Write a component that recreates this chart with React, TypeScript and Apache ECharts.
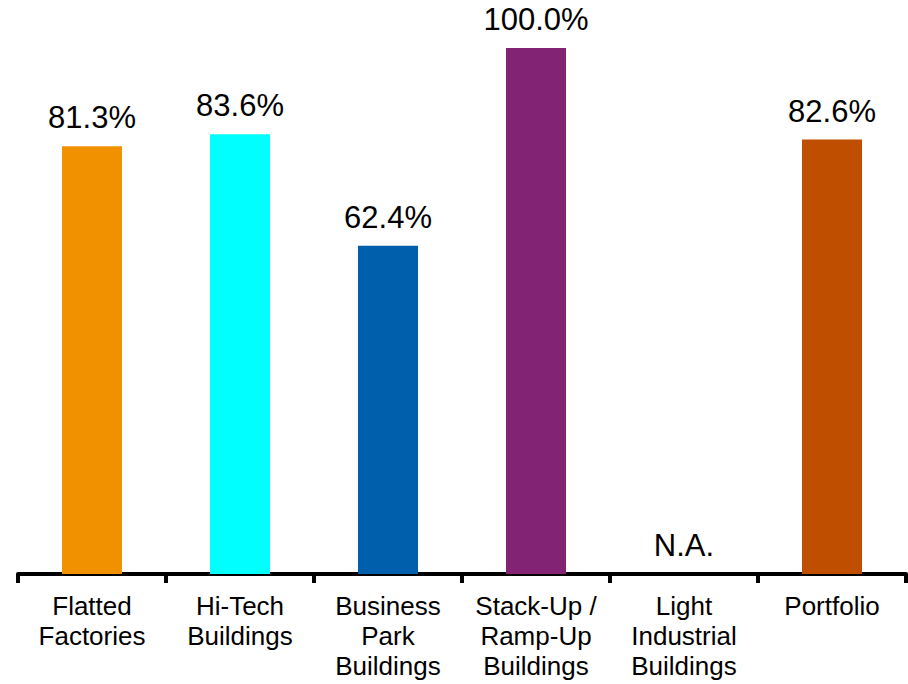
import React, { useEffect, useRef } from "react";
import * as echarts from "echarts";

const categories = [
  "Flatted\nFactories",
  "Hi-Tech\nBuildings",
  "Business\nPark\nBuildings",
  "Stack-Up /\nRamp-Up\nBuildings",
  "Light\nIndustrial\nBuildings",
  "Portfolio",
];
const values: (number | null)[] = [81.3, 83.6, 62.4, 100.0, null, 82.6];
const colors = ["#F29100", "#00FFFF", "#005FAD", "#822473", "#999999", "#C04E00"];
const naLabel = "N.A.";

const FONT = 'Arial, "Liberation Sans", sans-serif';

export default function App() {
  const ref = useRef<HTMLDivElement>(null);
  useEffect(() => {
    if (!ref.current) return;
    const chart = echarts.init(ref.current, undefined, { renderer: "svg" });
    const data = values.map((v, i) =>
      v === null
        ? { value: 0, itemStyle: { color: colors[i] }, label: { formatter: naLabel } }
        : { value: v, itemStyle: { color: colors[i] } }
    );
    chart.setOption({
      animation: false,
      backgroundColor: "#ffffff",
      grid: { left: 18, right: 2, top: 48, bottom: 110, containLabel: false },
      xAxis: {
        type: "category",
        data: categories,
        boundaryGap: true,
        axisLine: { show: true, lineStyle: { color: "#000000", width: 4 } },
        axisTick: { show: true, length: 9, lineStyle: { color: "#000000", width: 4 } },
        axisLabel: {
          interval: 0,
          color: "#000000",
          fontFamily: FONT,
          fontSize: 26,
          lineHeight: 30,
          margin: 17,
        },
      },
      yAxis: {
        type: "value",
        min: 0,
        max: 100,
        show: false,
        splitLine: { show: false },
      },
      series: [
        {
          type: "bar",
          data,
          barWidth: 60,
          label: {
            show: true,
            position: "top",
            distance: 13,
            color: "#000000",
            fontFamily: FONT,
            fontSize: 31,
            formatter: (p: any) => `${Number(p.value).toFixed(1)}%`,
          },
        },
      ],
    });
    return () => chart.dispose();
  }, []);
  return (
    <div
      ref={ref}
      style={{ position: "fixed", left: 0, top: 0, width: 908, height: 684 }}
    />
  );
}
